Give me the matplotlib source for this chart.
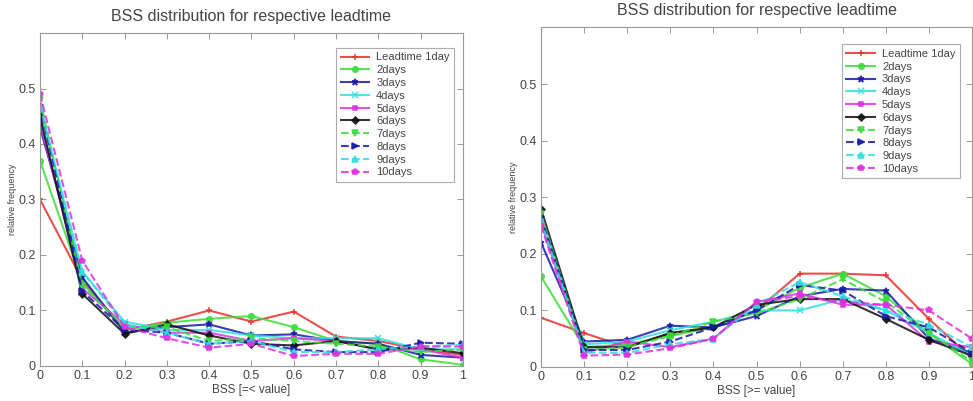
import matplotlib
matplotlib.use("Agg")
import matplotlib.pyplot as plt

bss = [0.0, 0.1, 0.2, 0.3, 0.4, 0.5, 0.6, 0.7, 0.8, 0.9, 1.0]
labels = ["Leadtime 1day", "2days", "3days", "4days", "5days",
          "6days", "7days", "8days", "9days", "10days"]
yticks = [0, 0.1, 0.2, 0.3, 0.4, 0.5]
ytick_labels = ["0", "0.1", "0.2", "0.3", "0.4", "0.5"]
xtick_labels = ["0", "0.1", "0.2", "0.3", "0.4", "0.5", "0.6", "0.7", "0.8", "0.9", "1"]

left_1 = [0.30, 0.155, 0.065, 0.080, 0.100, 0.080, 0.098, 0.053, 0.045, 0.030, 0.020]
left_2 = [0.37, 0.150, 0.065, 0.078, 0.085, 0.090, 0.070, 0.045, 0.040, 0.012, 0.002]
left_3 = [0.43, 0.160, 0.060, 0.070, 0.075, 0.055, 0.057, 0.045, 0.040, 0.020, 0.015]
left_4 = [0.46, 0.170, 0.080, 0.065, 0.065, 0.055, 0.050, 0.050, 0.050, 0.030, 0.030]
left_5 = [0.44, 0.140, 0.075, 0.060, 0.060, 0.045, 0.050, 0.045, 0.030, 0.030, 0.015]
left_6 = [0.45, 0.130, 0.058, 0.075, 0.055, 0.040, 0.037, 0.045, 0.030, 0.033, 0.023]
left_7 = [0.48, 0.145, 0.070, 0.070, 0.045, 0.050, 0.045, 0.040, 0.035, 0.025, 0.030]
left_8 = [0.47, 0.135, 0.065, 0.060, 0.040, 0.045, 0.030, 0.025, 0.025, 0.042, 0.040]
left_9 = [0.47, 0.170, 0.075, 0.060, 0.040, 0.045, 0.025, 0.025, 0.030, 0.035, 0.038]
left_10 = [0.49, 0.190, 0.070, 0.050, 0.033, 0.040, 0.018, 0.022, 0.022, 0.035, 0.035]

right_1 = [0.087, 0.060, 0.035, 0.060, 0.070, 0.100, 0.165, 0.165, 0.162, 0.085, 0.015]
right_2 = [0.160, 0.035, 0.040, 0.055, 0.070, 0.100, 0.140, 0.165, 0.125, 0.060, 0.005]
right_3 = [0.220, 0.045, 0.048, 0.073, 0.070, 0.090, 0.125, 0.138, 0.135, 0.050, 0.025]
right_4 = [0.260, 0.040, 0.045, 0.065, 0.080, 0.100, 0.100, 0.120, 0.100, 0.060, 0.020]
right_5 = [0.255, 0.025, 0.045, 0.035, 0.050, 0.115, 0.130, 0.110, 0.110, 0.045, 0.035]
right_6 = [0.280, 0.035, 0.035, 0.060, 0.070, 0.110, 0.120, 0.120, 0.085, 0.048, 0.020]
right_7 = [0.270, 0.030, 0.035, 0.055, 0.080, 0.095, 0.120, 0.155, 0.115, 0.060, 0.010]
right_8 = [0.265, 0.030, 0.030, 0.045, 0.070, 0.100, 0.145, 0.135, 0.090, 0.070, 0.025]
right_9 = [0.260, 0.025, 0.025, 0.040, 0.050, 0.110, 0.150, 0.125, 0.100, 0.075, 0.035]
right_10 = [0.250, 0.020, 0.022, 0.033, 0.050, 0.115, 0.125, 0.115, 0.110, 0.100, 0.050]

left_series = [left_1, left_2, left_3, left_4, left_5, left_6, left_7, left_8, left_9, left_10]
right_series = [right_1, right_2, right_3, right_4, right_5, right_6, right_7, right_8, right_9, right_10]

colors = ["#e8302e", "#3cdc3c", "#1a1aa8", "#30e0e0", "#e030e0",
          "#101010", "#3cdc3c", "#1a1aa8", "#30e0e0", "#e030e0"]
markers = ["+", "o", "*", "x", "s", "D", "v", ">", "^", "p"]
styles = ["-", "-", "-", "-", "-", "-", "--", "--", "--", "--"]
msizes = [5, 4, 5, 4, 3.5, 3.5, 4, 4, 4, 4]

plt.rcParams['font.family'] = ['Liberation Sans', 'DejaVu Sans']
fig = plt.figure(figsize=(9.73, 4.01), dpi=100)
txtc = "#444444"

def make_ax(rect, series, title, xlabel, ylabel, leg_anchor):
    ax = fig.add_axes(rect)
    for s, c, m, ls, ms, lab in zip(series, colors, markers, styles, msizes, labels):
        ax.plot(bss, s, color=c, marker=m, linestyle=ls, markersize=ms,
                linewidth=1.5, markeredgewidth=1.2, label=lab, alpha=0.85)
    ax.set_xlim(0, 1)
    ax.set_ylim(0, 0.6)
    ax.set_xticks(bss)
    ax.set_xticklabels(xtick_labels)
    ax.set_yticks(yticks)
    ax.set_yticklabels(ytick_labels)
    ax.tick_params(direction="in", top=True, right=True, length=4, width=0.6,
                   labelsize=9, colors="#888888", labelcolor=txtc, pad=3)
    for sp in ax.spines.values():
        sp.set_color("#999999")
        sp.set_linewidth(0.8)
    ax.set_title(title, fontsize=11.5, color=txtc, pad=9)
    ax.set_xlabel(xlabel, fontsize=8.5, color=txtc, labelpad=1)
    ax.set_ylabel(ylabel, fontsize=6.5, color=txtc, labelpad=1)
    leg = ax.legend(loc="upper right", bbox_to_anchor=leg_anchor, borderaxespad=0,
                    fontsize=8, frameon=True, fancybox=False, handlelength=2.6,
                    labelspacing=0.25, borderpad=0.4, handletextpad=0.6,
                    labelcolor=txtc)
    leg.get_frame().set_edgecolor("#999999")
    leg.get_frame().set_linewidth(0.8)
    return ax

make_ax([0.0411, 0.0873, 0.4347, 0.8304], left_series,
        "BSS distribution for respective leadtime", "BSS [=< value]", "relative frequency",
        (0.979, 0.955))
make_ax([0.556, 0.0848, 0.443, 0.8467], right_series,
        "BSS distribution for respective leadtime", "BSS [>= value]", "relative frequency",
        (0.972, 0.95))

fig.savefig("out.png", dpi=100)
